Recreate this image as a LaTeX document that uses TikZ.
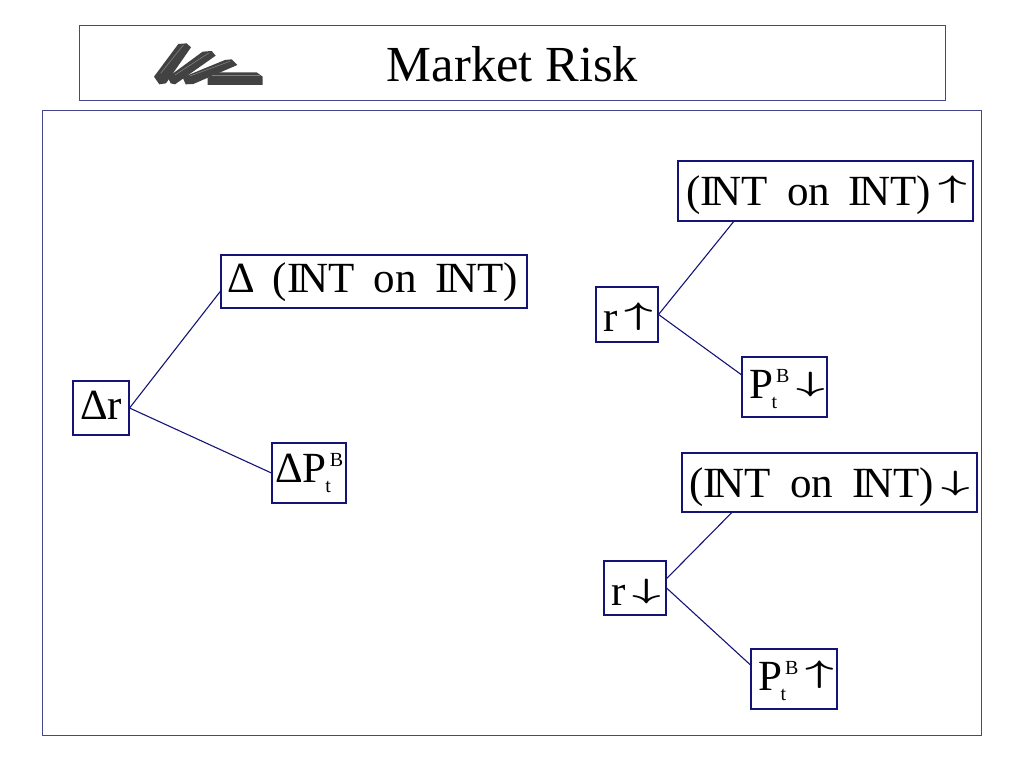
\documentclass[tikz,border=0pt]{standalone}
\usepackage{fontspec}
\setmainfont{Liberation Serif}
\usetikzlibrary{calc}
\definecolor{boxblue}{RGB}{20,20,120}
\definecolor{framec}{RGB}{70,70,140}
\newcommand{\txtsize}{\fontsize{43}{46}\selectfont}
\newcommand{\INT}{I\kern-0.09em NT}
\newcommand{\IOI}{(\INT\hspace{0.44em}on\hspace{0.44em}\INT)}
\newcommand{\arrU}{\raisebox{7.5pt}{\scalebox{2.0}[1.25]{\boldmath\(\uparrow\)}}}
\newcommand{\arrD}{\raisebox{6.5pt}{\scalebox{2.0}[1.12]{\boldmath\(\downarrow\)}}}
\newcommand{\PtB}{P\kern-1.5pt\rlap{\raisebox{16pt}{\kern4.5pt\fontsize{20}{22}\selectfont B}}\raisebox{-10pt}{\fontsize{20}{22}\selectfont t}\kern12pt}
\newcommand{\base}[2]{\smash{\raisebox{-#1pt}{#2}}}
\tikzset{
  x=1pt,y=-1pt,
  framebox/.style={draw=framec,line width=0.8pt,fill=none},
  termbox/.style={draw=boxblue,line width=1.1pt,inner sep=0pt,font=\txtsize,text=black,align=center,anchor=center},
  link/.style={draw=boxblue,line width=1.1pt},
  brickdark/.style={fill=black!74,draw=none},
  brickstripe/.style={draw=black!50,line width=0.6pt}
}
\begin{document}
\begin{tikzpicture}
\useasboundingbox (0,0) rectangle (1024,768);
\node[framebox,minimum width=866pt,minimum height=75pt,inner sep=0pt] (header) at (512,62.5) {};
\node[framebox,minimum width=939pt,minimum height=625pt,inner sep=0pt] (panel) at (511.5,422.5) {};
\node[font=\fontsize{50.5}{54}\selectfont,text=black,inner sep=0pt] (title) at (512.5,65) {\base{17}{Market Risk}};
% logo
\begin{scope}[shift={(130,20)},x=0.3333pt,y=-0.3333pt]
\fill[brickdark] (72,170)--(145,72)--(170,70)--(183,82)--(108,190)--(88,193)--cycle;
\draw[brickstripe] (92,160)--(160,75);
\fill[brickdark] (113,172)--(218,95)--(245,93)--(257,107)--(135,193)--(122,190)--cycle;
\draw[brickstripe] (135,165)--(238,98);
\fill[brickdark] (158,172)--(285,120)--(305,118)--(322,135)--(190,192)--(167,193)--cycle;
\draw[brickstripe] (180,168)--(300,124);
\fill[brickdark] (233,175)--(250,157)--(380,157)--(398,170)--(398,195)--(233,195)--cycle;
\draw[brickstripe] (245,167)--(390,167);
\end{scope}
% left tree
\node[termbox,minimum width=56pt,minimum height=54pt] (dr) at (101,408) {\base{11}{Δr}};
\node[termbox,minimum width=306pt,minimum height=53pt] (dint) at (374,281.5) {\base{10.5}{\kern-3pt Δ\hspace{0.42em}\IOI}};
\node[termbox,minimum width=74pt,minimum height=60pt] (dp) at (309,473) {\base{9}{Δ\PtB}};
\draw[link] (dr.east) -- ($(dint.north west)!0.68!(dint.south west)$);
\draw[link] (dr.east) -- (dp.west);
% upper right tree
\node[termbox,minimum width=62pt,minimum height=55pt] (ru) at (627,314.5) {\base{17}{\kern3pt r\,\arrU}};
\node[termbox,minimum width=295pt,minimum height=60pt] (iu) at (825.5,191) {\base{14}{\kern2pt\IOI\,\arrU}};
\node[termbox,minimum width=85pt,minimum height=60pt] (pd) at (784.5,387) {\base{11}{\kern5pt\PtB\,\arrD}};
\draw[link] (ru.east) -- ($(iu.south west)!0.19!(iu.south east)$);
\draw[link] (ru.east) -- ($(pd.north west)!0.3!(pd.south west)$);
% lower right tree
\node[termbox,minimum width=62pt,minimum height=54pt] (rd) at (635,588) {\base{17}{\kern3pt r\,\arrD}};
\node[termbox,minimum width=295pt,minimum height=59pt] (id) at (829.5,482.5) {\base{14.5}{\IOI\,\arrD}};
\node[termbox,minimum width=86pt,minimum height=60pt] (pu) at (794,679) {\base{11}{\kern4pt\PtB\,\arrU}};
\draw[link] ($(rd.north east)!0.33!(rd.south east)$) -- ($(id.south west)!0.17!(id.south east)$);
\draw[link] ($(rd.north east)!0.5!(rd.south east)$) -- ($(pu.north west)!0.27!(pu.south west)$);
\end{tikzpicture}
\end{document}
